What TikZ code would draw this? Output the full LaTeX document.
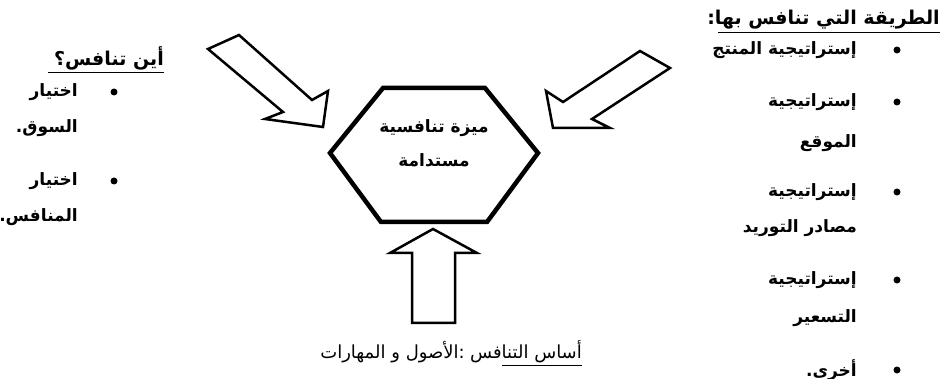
\documentclass[tikz,border=0pt]{standalone}
\usepackage{fontspec}
\newfontfamily\arabicfont[Script=Arabic]{DejaVu Sans}
\TeXXeTstate=1
\newcommand{\rtl}[1]{\beginR #1\endR}
\tikzset{
  artext/.style={font=\arabicfont\bfseries\fontsize{17}{20}\selectfont, inner sep=0pt, anchor=east},
  headtext/.style={artext, font=\arabicfont\bfseries\fontsize{19}{22}\selectfont},
  captext/.style={artext, font=\arabicfont\fontsize{18}{22}\selectfont},
  hexline/.style={line width=4.5pt, line join=miter},
  blockarrow/.style={line width=2.5pt, line join=miter, fill=white},
  ruleline/.style={line width=1pt},
  bulletdot/.style={circle, fill=black, inner sep=0pt, minimum size=7pt}
}
\begin{document}
\begin{tikzpicture}[x=1pt, y=-1pt]
\useasboundingbox (0,0) rectangle (940,379);

% central hexagon
\coordinate (h1) at (330,153);
\coordinate (h2) at (383,88);
\coordinate (h3) at (485,88);
\coordinate (h4) at (538,153);
\coordinate (h5) at (487,222);
\coordinate (h6) at (381,222);
\draw[hexline] (h1) -- (h2) -- (h3) -- (h4) -- (h5) -- (h6) -- cycle;
\node[artext, anchor=center] (hexa) at (434,128) {\rtl{ميزة تنافسية}};
\node[artext, anchor=center] (hexb) at (434,160) {\rtl{مستدامة}};

% block arrow from the upper left
\draw[blockarrow] (208,49) -- (239,35) -- (312,100) -- (328,91) -- (323,127)
  -- (265,119) -- (283,112) -- cycle;
% block arrow from the upper right
\draw[blockarrow] (640,51) -- (670,68) -- (592,119) -- (610,128) -- (553,128)
  -- (546,91) -- (563,102) -- cycle;
% block arrow from below
\draw[blockarrow] (433,229) -- (477,253) -- (455,253) -- (455,323) -- (412,323)
  -- (412,253) -- (390,253) -- cycle;

% left list
\node[headtext] (lhead) at (164,58) {\rtl{أين تنافس؟}};
\draw[ruleline] (48,73) -- (164,73);
\node[bulletdot] (lb1) at (114,92) {};
\node[artext] (l1a) at (78,92) {\rtl{اختيار}};
\node[artext] (l1b) at (78,128) {\rtl{السوق.}};
\node[bulletdot] (lb2) at (114,181) {};
\node[artext] (l2a) at (78,181) {\rtl{اختيار}};
\node[artext] (l2b) at (78,217) {\rtl{المنافس.}};

% right list
\node[headtext] (rhead) at (940,20) {\rtl{الطريقة التي تنافس بها:}};
\draw[ruleline] (718,33) -- (940,33);
\node[bulletdot] (rb1) at (897,50) {};
\node[artext] (r1) at (857,50) {\rtl{إستراتيجية المنتج}};
\node[bulletdot] (rb2) at (897,102) {};
\node[artext] (r2a) at (857,102) {\rtl{إستراتيجية}};
\node[artext] (r2b) at (857,143) {\rtl{الموقع}};
\node[bulletdot] (rb3) at (897,192) {};
\node[artext] (r3a) at (857,192) {\rtl{إستراتيجية}};
\node[artext] (r3b) at (857,228) {\rtl{مصادر التوريد}};
\node[bulletdot] (rb4) at (897,280) {};
\node[artext] (r4a) at (857,280) {\rtl{إستراتيجية}};
\node[artext] (r4b) at (857,318) {\rtl{التسعير}};
\node[bulletdot] (rb5) at (897,370) {};
\node[artext] (r5) at (857,370) {\rtl{أخرى.}};

% bottom caption
\node[captext] (bota) at (582,352) {\rtl{أساس التنافس}};
\node[captext] (botb) at ([xshift=-5pt]bota.west) {\rtl{:الأصول و المهارات}};
\draw[ruleline] (502,366) -- (582,366);
\end{tikzpicture}
\end{document}
